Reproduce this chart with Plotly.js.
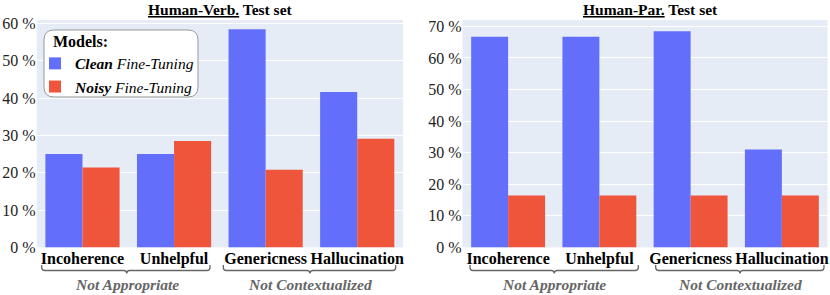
<!DOCTYPE html>
<html>
<head>
<meta charset="utf-8">
<script src="https://cdn.plot.ly/plotly-3.0.1.min.js"></script>
<style>
html,body{margin:0;padding:0;background:#fff;}
#chart{width:830px;height:295px;}
</style>
</head>
<body>
<div id="chart"></div>
<script>
// ---- data ----
const categories = ["Incoherence", "Unhelpful", "Genericness", "Hallucination"];
const verbClean = [25.0, 25.0, 58.4, 41.6];
const verbNoisy = [21.4, 28.5, 20.8, 29.1];
const parClean = [66.7, 66.7, 68.4, 31.0];
const parNoisy = [16.4, 16.4, 16.4, 16.4];
const groupLabels = ["Not Appropriate", "Not Contextualized"];
const seriesNames = ["<i><b>Clean</b> Fine-Tuning</i>", "<i><b>Noisy</b> Fine-Tuning</i>"];
const panelTitles = ["<b><u>Human-Verb.</u> Test set</b>", "<b><u>Human-Par.</u> Test set</b>"];

// ---- helpers (pixel -> paper) ----
const W = 830, H = 295;
const px = x => x / W;
const py = y => 1 - y / H;
const FONT = "Liberation Serif";
const BLUE = "#636EFA", RED = "#EF553B";

function bracketPath(x0, x1, xc, yTop, yBot, yTip, r) {
  const P = (x, y) => px(x).toFixed(5) + "," + py(y).toFixed(5);
  return "M" + P(x0, yTop) + " L" + P(x0, yBot - r) + " Q" + P(x0, yBot) + " " + P(x0 + r, yBot) +
    " L" + P(xc - r, yBot) + " Q" + P(xc, yBot) + " " + P(xc, yTip) +
    " Q" + P(xc, yBot) + " " + P(xc + r, yBot) +
    " L" + P(x1 - r, yBot) + " Q" + P(x1, yBot) + " " + P(x1, yBot - r) + " L" + P(x1, yTop);
}
function roundRectPath(x0, y0, x1, y1, r) {
  const P = (x, y) => px(x).toFixed(5) + "," + py(y).toFixed(5);
  return "M" + P(x0 + r, y0) + " L" + P(x1 - r, y0) + " Q" + P(x1, y0) + " " + P(x1, y0 + r) +
    " L" + P(x1, y1 - r) + " Q" + P(x1, y1) + " " + P(x1 - r, y1) +
    " L" + P(x0 + r, y1) + " Q" + P(x0, y1) + " " + P(x0, y1 - r) +
    " L" + P(x0, y0 + r) + " Q" + P(x0, y0) + " " + P(x0 + r, y0) + " Z";
}

const traces = [
  {type: "bar", x: categories, y: verbClean, name: seriesNames[0], marker: {color: BLUE}, xaxis: "x", yaxis: "y", legendgroup: "c"},
  {type: "bar", x: categories, y: verbNoisy, name: seriesNames[1], marker: {color: RED}, xaxis: "x", yaxis: "y", legendgroup: "n"},
  {type: "bar", x: categories, y: parClean, name: seriesNames[0], marker: {color: BLUE}, xaxis: "x2", yaxis: "y2", showlegend: false, legendgroup: "c"},
  {type: "bar", x: categories, y: parNoisy, name: seriesNames[1], marker: {color: RED}, xaxis: "x2", yaxis: "y2", showlegend: false, legendgroup: "n"}
];

const yDom = [py(247.4), py(20)];
const xTick = {family: FONT, size: 16, color: "black"};
const yTick = {family: FONT, size: 16, color: "#222"};
const catText = categories.map(c => "<b>" + c + "</b>");

const layout = {
  width: W, height: H,
  margin: {l: 0, r: 0, t: 0, b: 0},
  paper_bgcolor: "white",
  plot_bgcolor: "#E5ECF6",
  font: {family: FONT, size: 16, color: "#222"},
  barmode: "group", bargap: 0.19, bargroupgap: 0,
  xaxis: {domain: [px(36.7), px(403)], type: "category", tickvals: categories, ticktext: catText, tickfont: xTick, showgrid: false, anchor: "y"},
  yaxis: {domain: yDom, range: [0, 60.9], dtick: 10, ticksuffix: " %", tickfont: yTick, gridcolor: "white", zeroline: false, anchor: "x"},
  xaxis2: {domain: [px(462.5), px(827.5)], type: "category", tickvals: categories, ticktext: catText, tickfont: xTick, showgrid: false, anchor: "y2"},
  yaxis2: {domain: yDom, range: [0, 72], dtick: 10, ticksuffix: " %", tickfont: yTick, gridcolor: "white", zeroline: false, anchor: "x2"},
  showlegend: true,
  legend: {
    x: px(35), y: py(26), xanchor: "left", yanchor: "top",
    bgcolor: "rgba(0,0,0,0)", borderwidth: 0,
    font: {family: FONT, size: 15.5, color: "black"},
    title: {text: "&nbsp;&nbsp;&nbsp;&nbsp;<b>Models:</b>", font: {family: FONT, size: 16, color: "black"}},
    tracegroupgap: 0, itemclick: false
  },
  shapes: [
    {type: "path", xref: "paper", yref: "paper", layer: "above", path: roundRectPath(44, 30, 198, 97, 10),
      fillcolor: "white", line: {color: "#999", width: 1}},
    {type: "path", xref: "paper", yref: "paper", path: bracketPath(41.7, 210, 126.7, 265, 270.5, 273.5, 3), line: {color: "#666", width: 1.3}},
    {type: "path", xref: "paper", yref: "paper", path: bracketPath(223.3, 395.7, 310, 265, 270.5, 273.5, 3), line: {color: "#666", width: 1.3}},
    {type: "path", xref: "paper", yref: "paper", path: bracketPath(470, 638.3, 554.3, 265, 270.5, 273.5, 3), line: {color: "#666", width: 1.3}},
    {type: "path", xref: "paper", yref: "paper", path: bracketPath(655.7, 824, 740, 265, 270.5, 273.5, 3), line: {color: "#666", width: 1.3}}
  ],
  annotations: [
    {xref: "paper", yref: "paper", x: px(220), y: py(9.5), xanchor: "center", yanchor: "middle", showarrow: false,
      text: panelTitles[0], font: {family: FONT, size: 15.5, color: "black"}},
    {xref: "paper", yref: "paper", x: px(650), y: py(9.5), xanchor: "center", yanchor: "middle", showarrow: false,
      text: panelTitles[1], font: {family: FONT, size: 15.5, color: "black"}},
    {xref: "paper", yref: "paper", x: px(126.7), y: py(284.5), xanchor: "center", yanchor: "middle", showarrow: false,
      text: "<b><i>" + groupLabels[0] + "</i></b>", font: {family: FONT, size: 15.5, color: "#666"}},
    {xref: "paper", yref: "paper", x: px(310), y: py(284.5), xanchor: "center", yanchor: "middle", showarrow: false,
      text: "<b><i>" + groupLabels[1] + "</i></b>", font: {family: FONT, size: 15.5, color: "#666"}},
    {xref: "paper", yref: "paper", x: px(554.3), y: py(284.5), xanchor: "center", yanchor: "middle", showarrow: false,
      text: "<b><i>" + groupLabels[0] + "</i></b>", font: {family: FONT, size: 15.5, color: "#666"}},
    {xref: "paper", yref: "paper", x: px(740), y: py(284.5), xanchor: "center", yanchor: "middle", showarrow: false,
      text: "<b><i>" + groupLabels[1] + "</i></b>", font: {family: FONT, size: 15.5, color: "#666"}}
  ]
};

Plotly.newPlot("chart", traces, layout, {displayModeBar: false, staticPlot: true});
</script>
</body>
</html>
